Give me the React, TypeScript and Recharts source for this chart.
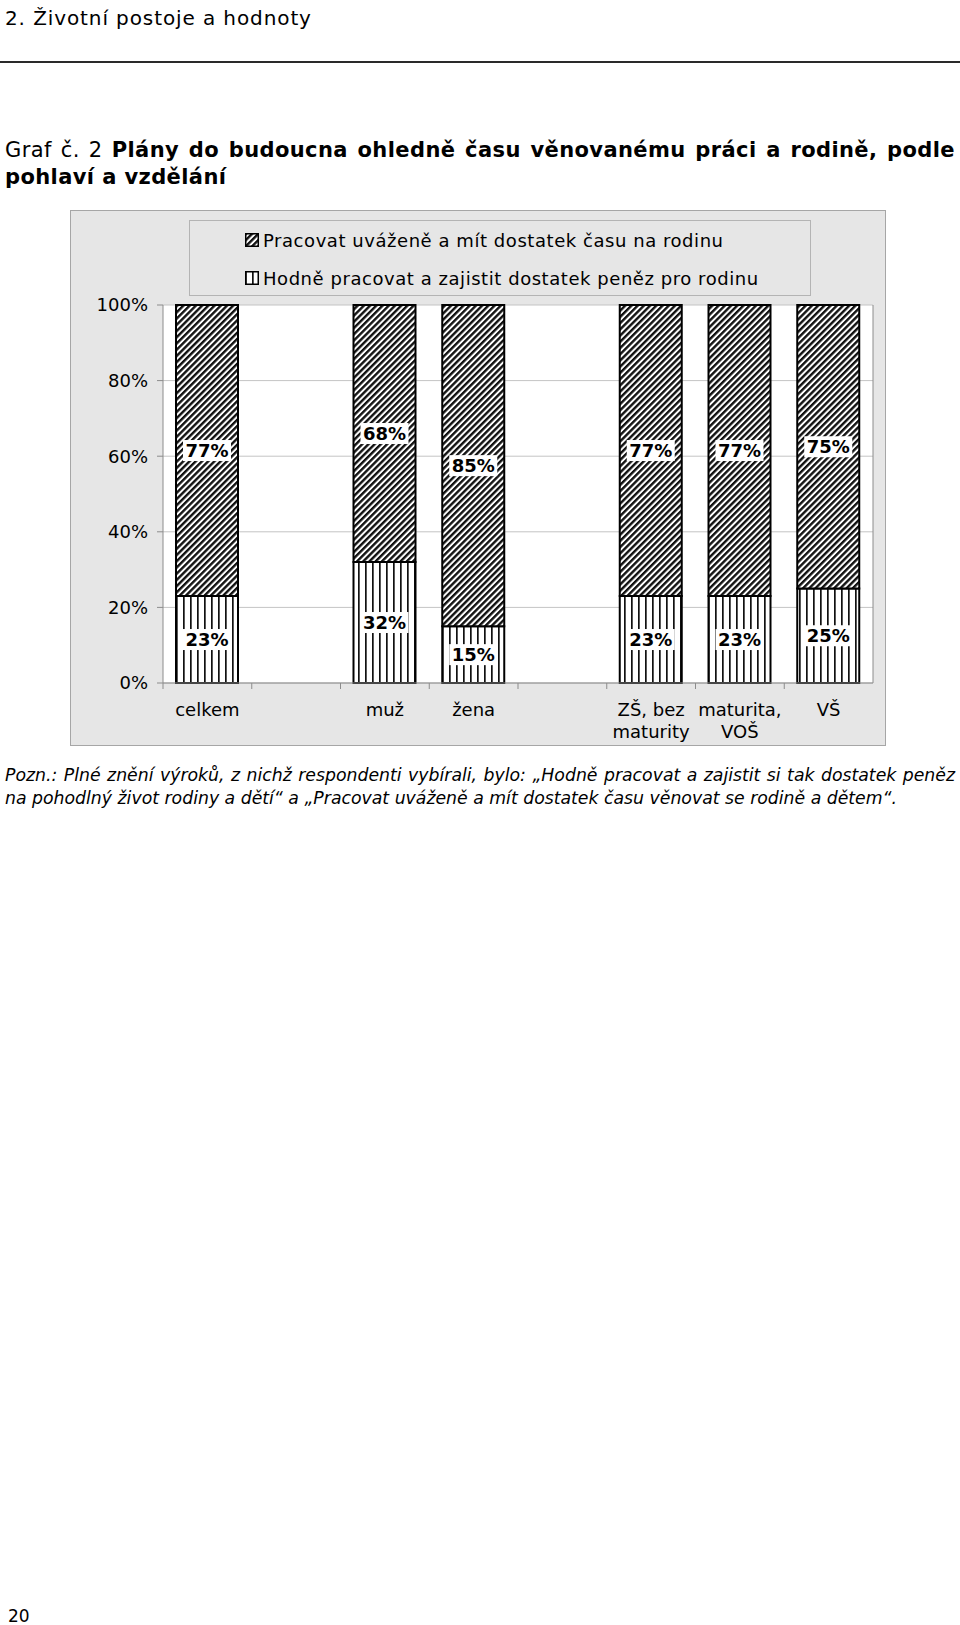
import React from "react";
import { BarChart, Bar, XAxis, YAxis, CartesianGrid, Legend, LabelList } from "recharts";

const categories = ["celkem", "", "muž", "žena", "", "ZŠ, bez maturity", "maturita, VOŠ", "VŠ"];
const tickLabelLines = [["celkem"], [], ["muž"], ["žena"], [], ["ZŠ, bez", "maturity"], ["maturita,", "VOŠ"], ["VŠ"]];
const familyValues = [77, null, 68, 85, null, 77, 77, 75];
const moneyValues = [23, null, 32, 15, null, 23, 23, 25];
const yTicks = [0, 20, 40, 60, 80, 100];
const familyName = "Pracovat uváženě a mít dostatek času na rodinu";
const moneyName = "Hodně pracovat a zajistit dostatek peněz pro rodinu";

const data = categories.map((name, i) => ({
  name,
  money: moneyValues[i],
  family: familyValues[i],
}));

const FONT = "'DejaVu Sans', Verdana, sans-serif";
const CHART_W = 814;
const CHART_H = 534;
const PLOT_LEFT = 92;
const PLOT_RIGHT = 802;
const AXIS_GRAY = "#8c8c8c";

const Patterns = () => (
  <defs>
    <pattern id="diag" patternUnits="userSpaceOnUse" width="4.4" height="4.4" patternTransform="rotate(45)">
      <rect x="0" y="0" width="4.4" height="4.4" fill="#fff" />
      <rect x="0" y="0" width="2.4" height="4.4" fill="#111" />
    </pattern>
    <pattern id="vert" patternUnits="userSpaceOnUse" width="7" height="10">
      <rect x="0" y="0" width="7" height="10" fill="#fff" />
      <rect x="0" y="0" width="1.7" height="10" fill="#111" />
    </pattern>
  </defs>
);

const renderValueLabel = (props: any) => {
  const { x, y, width, height, value } = props;
  if (value == null) return null;
  const cx = x + width / 2;
  const cy = y + height / 2;
  return (
    <g>
      <rect x={cx - 24} y={cy - 10.5} width={48} height={21} fill="#fff" />
      <text
        x={cx}
        y={cy}
        textAnchor="middle"
        dominantBaseline="central"
        fontFamily={FONT}
        fontWeight="bold"
        fontSize={18}
        fill="#000"
      >
        {value}%
      </text>
    </g>
  );
};

const CategoryTick = (props: any) => {
  const { x, y, index } = props;
  const lines = tickLabelLines[index] || [];
  const half = (PLOT_RIGHT - PLOT_LEFT) / categories.length / 2;
  return (
    <g>
      <line x1={x - half} y1={y} x2={x - half} y2={y + 6} stroke={AXIS_GRAY} />
      <text x={x} y={y + 33} textAnchor="middle" fontFamily={FONT} fontSize={18} fill="#000">
        {lines.map((l, i) => (
          <tspan key={i} x={x} dy={i === 0 ? 0 : 22}>
            {l}
          </tspan>
        ))}
      </text>
    </g>
  );
};

const Swatch = ({ id }: { id: string }) => (
  <svg width={14} height={14} style={{ display: "block" }}>
    <Patterns />
    <rect x={0.75} y={0.75} width={12.5} height={12.5} fill={`url(#${id})`} stroke="#000" strokeWidth={1.5} />
  </svg>
);

const ChartLegend = () => {
  const items = [
    { id: "diag", label: familyName },
    { id: "vert", label: moneyName },
  ];
  return (
    <div
      style={{
        boxSizing: "border-box",
        width: 622,
        height: 76,
        background: "#e6e6e6",
        border: "1px solid #b4b4b4",
        paddingTop: 0,
        paddingLeft: 55,
        fontFamily: FONT,
        fontSize: 18,
        letterSpacing: 0.55,
        color: "#000",
      }}
    >
      {items.map((it) => (
        <div key={it.id} style={{ display: "flex", alignItems: "center", height: 38 }}>
          <Swatch id={it.id} />
          <span style={{ marginLeft: 4, whiteSpace: "nowrap" }}>{it.label}</span>
        </div>
      ))}
    </div>
  );
};

const justified: React.CSSProperties = { textAlign: "justify", textAlignLast: "justify", whiteSpace: "normal" };

export default function App() {
  return (
    <div style={{ position: "absolute", left: 0, top: 0, width: 960, height: 1625, background: "#fff", fontFamily: FONT }}>
      <div style={{ position: "absolute", left: 5, top: 6, fontSize: 20, letterSpacing: 0.9, lineHeight: "24px", whiteSpace: "nowrap" }}>
        2. Životní postoje a hodnoty
      </div>
      <div style={{ position: "absolute", left: 0, top: 61, width: 960, height: 2, background: "#2a2a2a" }} />
      <div style={{ position: "absolute", left: 5, top: 137, width: 950, fontSize: 21, letterSpacing: 0.4, lineHeight: "27px" }}>
        <div style={justified}>
          Graf č. 2 <b>Plány do budoucna ohledně času věnovanému práci a rodině, podle</b>
        </div>
        <div style={{ whiteSpace: "nowrap" }}>
          <b>pohlaví a vzdělání</b>
        </div>
      </div>

      <div
        style={{
          position: "absolute",
          left: 70,
          top: 210,
          width: CHART_W + 2,
          height: CHART_H + 2,
          boxSizing: "border-box",
          border: "1px solid #a6a6a6",
          background: "#e6e6e6",
        }}
      >
        <BarChart
          width={CHART_W}
          height={CHART_H}
          data={data}
          barSize={62}
          margin={{ top: 94, right: 11, bottom: 0, left: 0 }}
        >
          <Patterns />
          <CartesianGrid horizontal vertical={false} fill="#fff" stroke="#c4c4c4" />
          <XAxis
            dataKey="name"
            height={62}
            interval={0}
            tickLine={false}
            tickSize={0}
            tickMargin={0}
            axisLine={{ stroke: AXIS_GRAY }}
            tick={<CategoryTick />}
          />
          <YAxis
            domain={[0, 100]}
            ticks={yTicks}
            tickFormatter={(v) => `${v}%`}
            width={92}
            tickSize={6}
            tickMargin={9}
            axisLine={{ stroke: AXIS_GRAY }}
            tickLine={{ stroke: AXIS_GRAY }}
            tick={{ fill: "#000", fontSize: 18, fontFamily: FONT }}
          />
          <YAxis
            yAxisId="right"
            orientation="right"
            domain={[0, 100]}
            width={1}
            tick={false}
            tickLine={false}
            axisLine={{ stroke: AXIS_GRAY }}
          />
          <Legend
            layout="horizontal"
            verticalAlign="middle"
            align="center"
            wrapperStyle={{ top: 9, left: 118, width: 622, height: 76 }}
            content={() => <ChartLegend />}
          />
          <Bar dataKey="money" name={moneyName} stackId="a" fill="url(#vert)" stroke="#000" strokeWidth={2} isAnimationActive={false}>
            <LabelList dataKey="money" content={renderValueLabel} />
          </Bar>
          <Bar dataKey="family" name={familyName} stackId="a" fill="url(#diag)" stroke="#000" strokeWidth={2} isAnimationActive={false}>
            <LabelList dataKey="family" content={renderValueLabel} />
          </Bar>
        </BarChart>
      </div>

      <div style={{ position: "absolute", left: 5, top: 764, width: 950, fontSize: 17.3, lineHeight: "23px", fontStyle: "italic" }}>
        <div style={justified}>
          Pozn.: Plné znění výroků, z nichž respondenti vybírali, bylo: „Hodně pracovat a zajistit si tak dostatek peněz
        </div>
        <div style={{ whiteSpace: "nowrap" }}>
          na pohodlný život rodiny a dětí“ a „Pracovat uváženě a mít dostatek času věnovat se rodině a dětem“.
        </div>
      </div>

      <div style={{ position: "absolute", left: 8, top: 1605, fontSize: 17, lineHeight: "22px" }}>20</div>
    </div>
  );
}
